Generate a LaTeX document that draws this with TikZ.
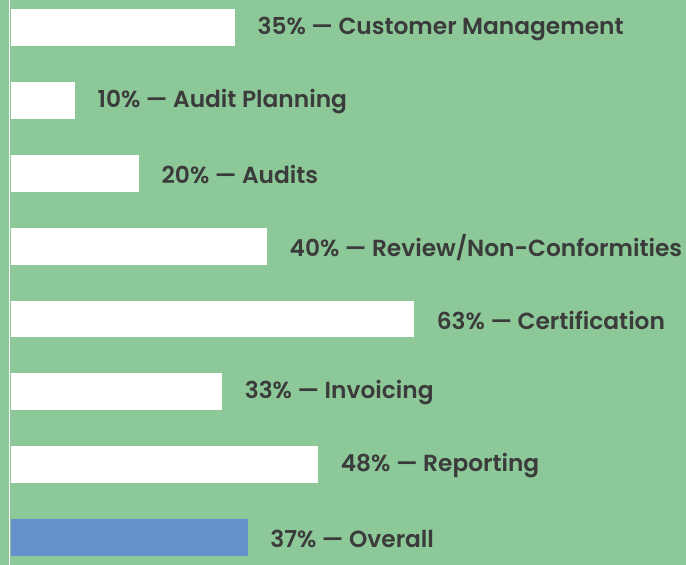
\documentclass[tikz,border=0pt]{standalone}
\usepackage{fontspec}
\setmainfont{Poppins}[BoldFont={Poppins SemiBold}]
\usetikzlibrary{positioning}
\definecolor{bggreen}{HTML}{8CC898}
\definecolor{barblue}{HTML}{6491CB}
\definecolor{txtgray}{HTML}{3B3B3B}

\begin{document}
\begin{tikzpicture}[x=1pt, y=-1pt,
  bar/.style={rectangle, fill=white, inner sep=0pt, minimum height=36.7pt, anchor=north west},
  lbl/.style={font=\fontsize{23.3}{27}\selectfont\bfseries, text=txtgray, inner sep=0pt, anchor=west, yshift=-1pt}
]
  \fill[bggreen] (0,0) rectangle (686,565);
  \useasboundingbox (0,0) rectangle (686,565);
  \draw[white, line width=1.5pt] (9.5,0) -- (9.5,565);

  \node[bar, minimum width=224pt] (cust) at (11,9) {};
  \node[bar, minimum width=64pt] (plan) at (11,82) {};
  \node[bar, minimum width=128pt] (audit) at (11,155) {};
  \node[bar, minimum width=256pt] (review) at (11,228) {};
  \node[bar, minimum width=403.2pt] (cert) at (11,300.5) {};
  \node[bar, minimum width=211.2pt] (invoice) at (11,373) {};
  \node[bar, minimum width=307.2pt] (report) at (11,446) {};
  \node[bar, fill=barblue, minimum width=236.8pt] (overall) at (11,519) {};

  \node[lbl, right=22pt of cust] (custtxt) {35\% — Customer Management};
  \node[lbl, right=22pt of plan] (plantxt) {10\% — Audit Planning};
  \node[lbl, right=22pt of audit] (audittxt) {20\% — Audits};
  \node[lbl, right=22pt of review] (reviewtxt) {40\% — Review/Non-Conformities};
  \node[lbl, right=22pt of cert] (certtxt) {63\% — Certification};
  \node[lbl, right=22pt of invoice] (invoicetxt) {33\% — Invoicing};
  \node[lbl, right=22pt of report] (reporttxt) {48\% — Reporting};
  \node[lbl, right=22pt of overall] (overalltxt) {37\% — Overall};
\end{tikzpicture}
\end{document}
